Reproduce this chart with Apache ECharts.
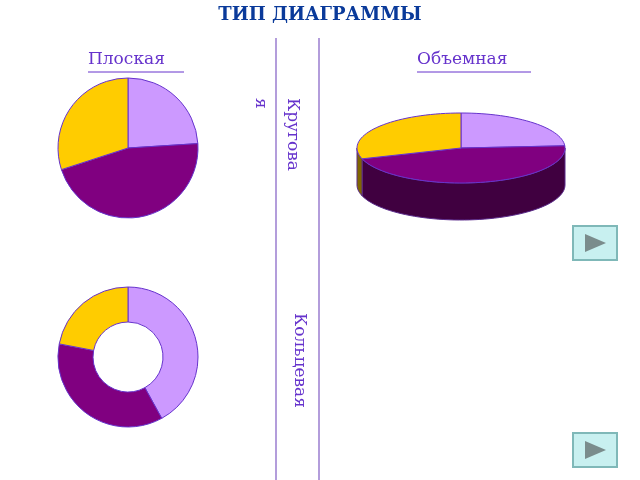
<!DOCTYPE html>
<html><head><meta charset="utf-8">
<script src="https://cdn.jsdelivr.net/npm/echarts@6/dist/echarts.min.js"></script>
<style>html,body{margin:0;padding:0;background:#fff}#c{width:640px;height:480px}</style>
</head><body><div id="c"></div>
<script>
const sliceNames = ['A','B','C'];
const flatValues = [24, 46, 30];
const ringValues = [42, 36, 22];
const volumeValues = [24, 46, 30];
const topColors = ['#cc99ff','#800080','#ffcc00'];
const sideColors = ['#8a5cb8','#400040','#806600'];

const chart = echarts.init(document.getElementById('c'));
const total3d = volumeValues.reduce((a,b)=>a+b,0);
const cx=461, cy=148, rx=104, ry=35, depth=37;
function pt(t){return [cx+rx*Math.sin(t), cy-ry*Math.cos(t)];}
function arc(a,b){const n=Math.max(2,Math.ceil((b-a)/0.05));const r=[];for(let i=0;i<=n;i++)r.push(pt(a+(b-a)*i/n));return r;}

function render3d(params, api){
  const i=params.dataIndex;
  let start=0; for(let k=0;k<i;k++) start+=volumeValues[k];
  const a=start/total3d*2*Math.PI, b=(start+api.value(0))/total3d*2*Math.PI;
  const children=[];
  const lo=Math.max(a,Math.PI/2), hi=Math.min(b,3*Math.PI/2);
  if(hi>lo){
    const top=arc(lo,hi);
    const bottom=top.map(p=>[p[0],p[1]+depth]).reverse();
    children.push({type:'polygon',shape:{points:top.concat(bottom)},style:{fill:sideColors[i],stroke:'#5a2a8a',lineWidth:1},z2:1});
  }
  const pts=[[cx,cy]].concat(arc(a,b));
  children.push({type:'polygon',shape:{points:pts},style:{fill:topColors[i],stroke:'#6633cc',lineWidth:1},z2:10});
  return {type:'group',children};
}

function playBtn(y){
  return {type:'group',children:[
    {type:'rect',shape:{x:573,y:y,width:44,height:34},style:{fill:'#c8f0f0',stroke:'#7fb8b8',lineWidth:2}},
    {type:'polygon',shape:{points:[[585,y+8],[585,y+26],[606,y+17]]},style:{fill:'#7a8c8c'}}
  ]};
}

chart.setOption({
  animation:false,
  graphic:[
    {type:'text',left:'center',top:6,style:{text:'ТИП ДИАГРАММЫ',font:'bold 18px "DejaVu Serif"',fill:'#0a3a9a'}},
    {type:'text',x:88,y:51,style:{text:'Плоская',font:'17px "DejaVu Serif"',fill:'#6633cc'}},
    {type:'line',shape:{x1:88,y1:72,x2:184,y2:72},style:{stroke:'#6633cc',lineWidth:1}},
    {type:'text',x:417,y:51,style:{text:'Объемная',font:'17px "DejaVu Serif"',fill:'#6633cc'}},
    {type:'line',shape:{x1:417,y1:72,x2:531,y2:72},style:{stroke:'#6633cc',lineWidth:1}},
    {type:'line',shape:{x1:276,y1:38,x2:276,y2:480},style:{stroke:'#b39ddb',lineWidth:2}},
    {type:'line',shape:{x1:319,y1:38,x2:319,y2:480},style:{stroke:'#b39ddb',lineWidth:2}},
    {type:'text',x:308,y:98,rotation:-Math.PI/2,style:{text:'Кругова\nя',font:'17px "DejaVu Serif"',fill:'#6633cc',lineHeight:32}},
    {type:'text',x:308,y:313,rotation:-Math.PI/2,style:{text:'Кольцевая',font:'17px "DejaVu Serif"',fill:'#6633cc'}},
    playBtn(226), playBtn(433)
  ],
  series:[
    {type:'pie',center:[128,148],radius:70,startAngle:90,label:{show:false},labelLine:{show:false},
     itemStyle:{borderColor:'#6633cc',borderWidth:1},
     data:flatValues.map((v,i)=>({name:sliceNames[i],value:v,itemStyle:{color:topColors[i]}}))},
    {type:'pie',center:[128,357],radius:[35,70],startAngle:90,label:{show:false},labelLine:{show:false},
     itemStyle:{borderColor:'#6633cc',borderWidth:1},
     data:ringValues.map((v,i)=>({name:sliceNames[i],value:v,itemStyle:{color:topColors[i]}}))},
    {type:'custom',coordinateSystem:'none',renderItem:render3d,data:volumeValues.map(v=>[v])}
  ]
});
</script></body></html>
